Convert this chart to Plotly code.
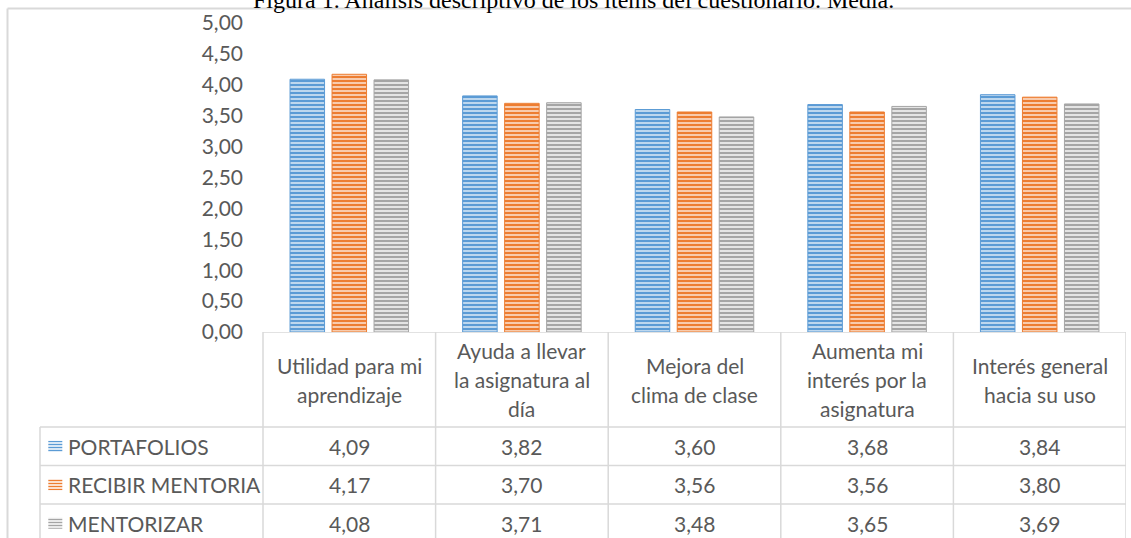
import plotly.graph_objects as go

# ---- data -------------------------------------------------------------
categories = [
    "Utilidad para mi aprendizaje",
    "Ayuda a llevar la asignatura al día",
    "Mejora del clima de clase",
    "Aumenta mi interés por la asignatura",
    "Interés general hacia su uso",
]
category_labels = [
    "Utilidad para mi<br>aprendizaje",
    "Ayuda a llevar<br>la asignatura al<br>día",
    "Mejora del<br>clima de clase",
    "Aumenta mi<br>interés por la<br>asignatura",
    "Interés general<br>hacia su uso",
]
series_names = ["PORTAFOLIOS", "RECIBIR MENTORIA", "MENTORIZAR"]
portafolios = [4.09, 3.82, 3.60, 3.68, 3.84]
recibir_mentoria = [4.17, 3.70, 3.56, 3.56, 3.80]
mentorizar = [4.08, 3.71, 3.48, 3.65, 3.69]
y_ticks = [0.0, 0.5, 1.0, 1.5, 2.0, 2.5, 3.0, 3.5, 4.0, 4.5, 5.0]

title_text = "Figura 1. Análisis descriptivo de los ítems del cuestionario. Media."

# ---- styling ----------------------------------------------------------
series_values = [portafolios, recibir_mentoria, mentorizar]
fg_colors = ["#5B9BD5", "#ED7D31", "#A5A5A5"]
bg_colors = ["#BDD7EE", "#F8CBAD", "#E4E4E4"]
text_color = "#595959"
grid_color = "#D9D9D9"
font_family = "Lato"
font_size = 21
line_gap = 29               # line spacing inside header cells

W, H = 1131, 538
M_L, M_R, M_T, M_B = 0, 5, 23, 0
plot_w = W - M_L - M_R
plot_h = H - M_T - M_B
bars_left_px = 263          # left edge of the bar area / table value columns
axis_px = 332               # pixel row of the value axis zero line
n_cat = len(categories)
col_px = (plot_w - bars_left_px) / n_cat

# table geometry (y2 units = pixels below the zero line)
header_h = 95
row_h = 38.5
table_h = H - axis_px
legend_left_px = 40

x2_min = -0.5 - bars_left_px / col_px
x2_max = n_cat - 0.5


def px_to_x2(px):
    return x2_min + px / col_px


def fmt(v):
    return f"{v:.2f}".replace(".", ",")


fig = go.Figure()

# grouped bars
for name, vals, fg, bg in zip(series_names, series_values, fg_colors, bg_colors):
    fig.add_trace(go.Bar(
        x=categories, y=vals, name=name, showlegend=False,
        marker=dict(
            color=fg,
            line=dict(color=fg, width=1),
            pattern=dict(shape="-", fgcolor=fg, bgcolor=bg, size=4,
                         solidity=0.5, fillmode="replace"),
        ),
        xaxis="x", yaxis="y",
    ))

# legend swatches inside the data table
row_centers = [header_h + row_h * (i + 0.5) for i in range(len(series_names))]
sw_w, sw_h = 14, 11
fig.add_trace(go.Bar(
    x=[px_to_x2(legend_left_px + 15.3)] * len(series_names),
    y=[sw_h] * len(series_names),
    base=[c - sw_h / 2 for c in row_centers],
    width=sw_w / col_px,
    marker=dict(
        color=fg_colors,
        line=dict(color=bg_colors, width=0),
        pattern=dict(shape="-", fgcolor=fg_colors, bgcolor=bg_colors, size=3,
                     solidity=0.5, fillmode="replace"),
    ),
    showlegend=False, hoverinfo="skip",
    xaxis="x2", yaxis="y2",
))

shapes = []
line_style = dict(color=grid_color, width=1.5)

# table grid: zero line/header top
shapes.append(dict(type="line", xref="x2", yref="y2", x0=-0.5, x1=x2_max,
                   y0=0, y1=0, line=line_style))
# vertical column separators
for k in range(n_cat + 1):
    xv = k - 0.5
    shapes.append(dict(type="line", xref="x2", yref="y2", x0=xv, x1=xv,
                       y0=0, y1=table_h + 5, line=line_style))
# horizontal row separators
for r in range(len(series_names) + 1):
    yv = header_h + row_h * r
    shapes.append(dict(type="line", xref="x2", yref="y2",
                       x0=px_to_x2(legend_left_px), x1=x2_max,
                       y0=yv, y1=yv, line=line_style))
# left border of the legend column
shapes.append(dict(type="line", xref="x2", yref="y2",
                   x0=px_to_x2(legend_left_px), x1=px_to_x2(legend_left_px),
                   y0=header_h, y1=table_h + 5, line=line_style))

# outer chart frame
frame_x = 7.5 / plot_w
frame_y = (H - 8.5 - M_B) / plot_h
shapes.append(dict(type="line", xref="paper", yref="paper",
                   x0=frame_x, x1=(W + 5) / plot_w, y0=frame_y, y1=frame_y,
                   line=dict(color=grid_color, width=2)))
shapes.append(dict(type="line", xref="paper", yref="paper",
                   x0=frame_x, x1=frame_x, y0=frame_y, y1=-0.05,
                   line=dict(color=grid_color, width=2)))

annotations = []
cell_font = dict(family=font_family, size=font_size, color=text_color)

# header cells (category names), one annotation per text line
for cat, lab in zip(categories, category_labels):
    lines = lab.split("<br>")
    n = len(lines)
    for k, ln in enumerate(lines):
        yc = header_h / 2 + (k - (n - 1) / 2) * line_gap
        annotations.append(dict(x=cat, y=yc, xref="x", yref="y2",
                                text=ln, showarrow=False, align="center",
                                xanchor="center", yanchor="middle",
                                font=cell_font))

# series rows
for name, vals, yc in zip(series_names, series_values, row_centers):
    annotations.append(dict(x=px_to_x2(legend_left_px + 26), y=yc,
                            xref="x2", yref="y2", text=name, showarrow=False,
                            xanchor="left", yanchor="middle", font=cell_font))
    for cat, v in zip(categories, vals):
        annotations.append(dict(x=cat, y=yc, xref="x", yref="y2",
                                text=fmt(v), showarrow=False,
                                xanchor="center", yanchor="middle",
                                font=cell_font))

# figure caption (partly above the visible area)
annotations.append(dict(x=573 / plot_w, y=(H - 15 - M_B) / plot_h,
                        xref="paper", yref="paper", text=title_text,
                        showarrow=False, xanchor="center", yanchor="bottom",
                        font=dict(family="Liberation Serif", size=24,
                                  color="#000000")))

fig.update_layout(
    template="none",
    width=W, height=H,
    margin=dict(l=M_L, r=M_R, t=M_T, b=M_B, pad=0, autoexpand=False),
    paper_bgcolor="white", plot_bgcolor="rgba(0,0,0,0)",
    separators=",.",
    barmode="group", bargap=0.27, bargroupgap=0.178,
    font=dict(family=font_family, size=font_size, color=text_color),
    xaxis=dict(domain=[bars_left_px / plot_w, 1], range=[-0.5, n_cat - 0.5],
               showticklabels=False, showgrid=False, zeroline=False,
               showline=False, ticks="", fixedrange=True, automargin=False),
    yaxis=dict(domain=[(H - axis_px - M_B) / plot_h, 1], range=[0, 5],
               tickvals=y_ticks, tickformat=".2f", showgrid=False,
               zeroline=False, showline=False, ticks="",
               ticklabelstandoff=19, automargin=False,
               tickfont=dict(family=font_family, size=font_size,
                             color=text_color)),
    xaxis2=dict(domain=[0, 1], range=[x2_min, x2_max], visible=False,
                anchor="y2", fixedrange=True, automargin=False),
    yaxis2=dict(domain=[0, (H - axis_px - M_B) / plot_h],
                range=[table_h, 0], visible=False, anchor="x2",
                automargin=False),
    shapes=shapes,
    annotations=annotations,
)

fig.write_html("out.html")
